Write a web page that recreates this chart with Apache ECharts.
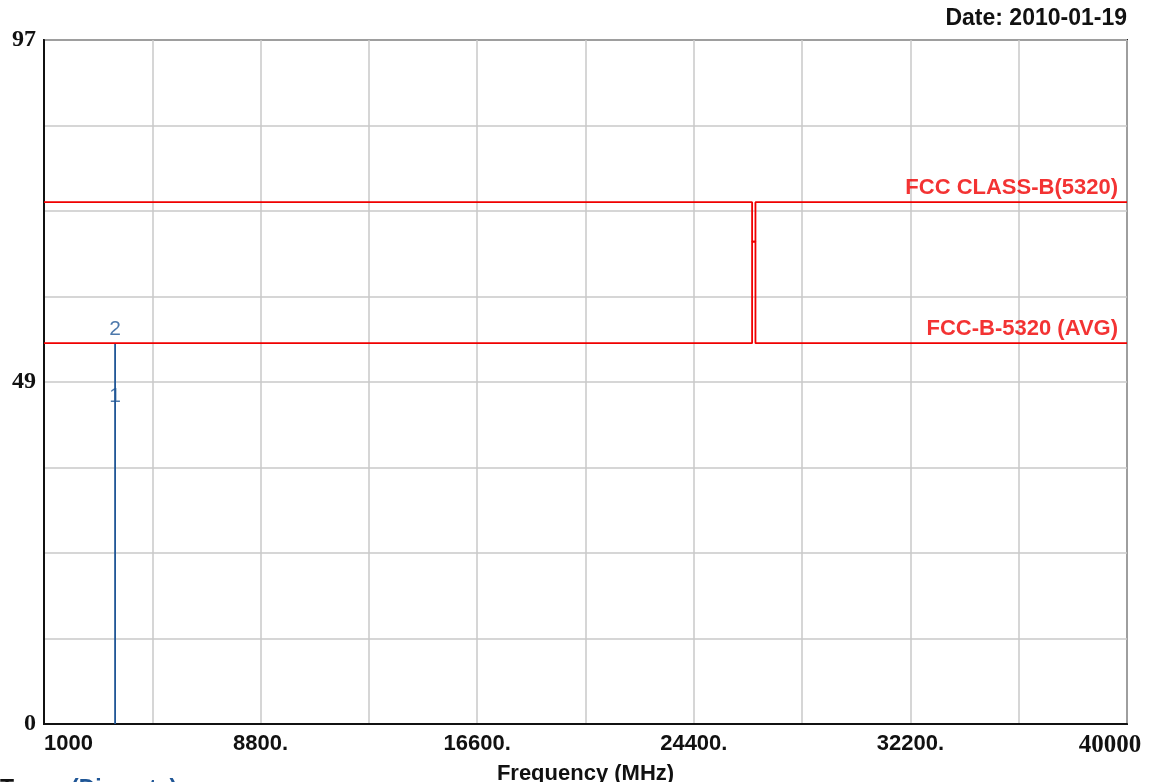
<!DOCTYPE html>
<html>
<head>
<meta charset="utf-8">
<script src="https://cdn.jsdelivr.net/npm/echarts@6/dist/echarts.min.js"></script>
<style>
html,body{margin:0;padding:0;background:#fff;}
#c{width:1158px;height:782px;}
</style>
</head>
<body>
<div id="c"></div>
<script>
// ---- data ----
const xTickValues = [1000, 4900, 8800, 12700, 16600, 20500, 24400, 28300, 32200, 36100, 40000];
const xLabelValues = [1000, 8800, 16600, 24400, 32200, 40000];
const yTickValues = [0, 12.125, 24.25, 36.375, 48.5, 60.625, 72.75, 84.875, 97];
const yLabelValues = [0, 48.5, 97];
const peakLimit = [[1000, 74], [26500, 74], [26500, 68.4], [26620, 68.4], [26620, 74], [40000, 74]];
const avgLimit = [[1000, 54], [26500, 54], [26500, 68.4], [26620, 68.4], [26620, 54], [40000, 54]];
const limitNames = ['FCC CLASS-B(5320)', 'FCC-B-5320 (AVG)'];
const limitLabelPoints = [[40000, 74], [40000, 54]];
const traceFreq = 3560;
const traceStick = [[traceFreq, 0], [traceFreq, 54]];
const markerNames = ['1', '2'];
const markerValues = [44.5, 54];

const chart = echarts.init(document.getElementById('c'));
const RED = '#f00000';
const BLUE = '#1f5696';
const sans = 'Liberation Sans';
const serif = 'Liberation Serif';

function limitSeries(data) {
  return {
    type: 'line', data: data, symbol: 'none',
    lineStyle: { color: RED, width: 1.8 }, animation: false, silent: true, z: 5
  };
}

chart.setOption({
  animation: false,
  grid: { left: 44, right: 31, top: 40, bottom: 58, outerBoundsMode: 'none', containLabel: false,
    show: true, borderColor: '#222', borderWidth: 2, backgroundColor: '#fff' },
  xAxis: {
    type: 'value', min: 1000, max: 40000,
    axisLine: { show: true, lineStyle: { color: '#111', width: 2 } },
    axisTick: { show: false, customValues: xTickValues },
    splitLine: { show: true, lineStyle: { color: '#c8c8c8', width: 1.5 } },
    axisLabel: {
      customValues: xLabelValues, margin: 9,
      formatter: function (v) {
        if (v === 1000) return '{a|1000}';
        if (v === 40000) return '{s|40000}';
        return '{c|' + v + '.}';
      },
      rich: {
        a: { fontFamily: sans, fontWeight: 'bold', fontSize: 22, color: '#111', align: 'left', width: 0 },
        c: { fontFamily: sans, fontWeight: 'bold', fontSize: 22, color: '#111' },
        s: { fontFamily: serif, fontWeight: 'bold', fontSize: 25, color: '#111', padding: [0, 0, 0, -34] }
      }
    },
    name: 'Frequency (MHz)', nameLocation: 'middle', nameGap: 34,
    nameTextStyle: { fontFamily: sans, fontWeight: 'bold', fontSize: 22, color: '#111' }
  },
  yAxis: {
    type: 'value', min: 0, max: 97,
    axisLine: { show: true, lineStyle: { color: '#111', width: 2 } },
    axisTick: { show: false, customValues: yTickValues },
    splitLine: { show: true, lineStyle: { color: '#c8c8c8', width: 1.5 } },
    axisLabel: {
      customValues: yLabelValues, margin: 8,
      formatter: function (v) { return String(Math.round(v)); },
      fontFamily: serif, fontWeight: 'bold', fontSize: 24, color: '#111'
    }
  },
  graphic: [
    { type: 'text', right: 31, top: 7, style: { text: 'Date: 2010-01-19', fontFamily: sans, fontWeight: 'bold', fontSize: 23, fill: '#111' } },
    { type: 'text', left: 0, top: 778, style: {
      text: '{k|Trace:} {b|(Discrete)}',
      rich: {
        k: { fontFamily: sans, fontWeight: 'bold', fontSize: 23, fill: '#111' },
        b: { fontFamily: sans, fontWeight: 'bold', fontSize: 23, fill: BLUE }
      }
    } }
  ],
  series: [
    limitSeries(peakLimit),
    limitSeries(avgLimit),
    {
      type: 'scatter', symbolSize: 0, z: 7, silent: true,
      data: limitLabelPoints.map((p, i) => ({ value: p, name: limitNames[i] })),
      label: {
        show: true, formatter: '{b}', position: 'top', align: 'right', verticalAlign: 'bottom',
        distance: 3, offset: [-9, 0], color: RED, fontFamily: sans, fontWeight: 'bold', fontSize: 22
      }
    },
    {
      type: 'line', data: traceStick, symbol: 'none',
      lineStyle: { color: BLUE, width: 1.8 }, z: 4, silent: true
    },
    {
      type: 'scatter', symbolSize: 0, z: 6, silent: true,
      data: markerValues.map((v, i) => ({ value: [traceFreq, v], name: markerNames[i] })),
      label: {
        show: true, formatter: '{b}', position: 'top', distance: 4,
        color: BLUE, fontFamily: sans, fontSize: 21
      }
    }
  ]
});
</script>
</body>
</html>
